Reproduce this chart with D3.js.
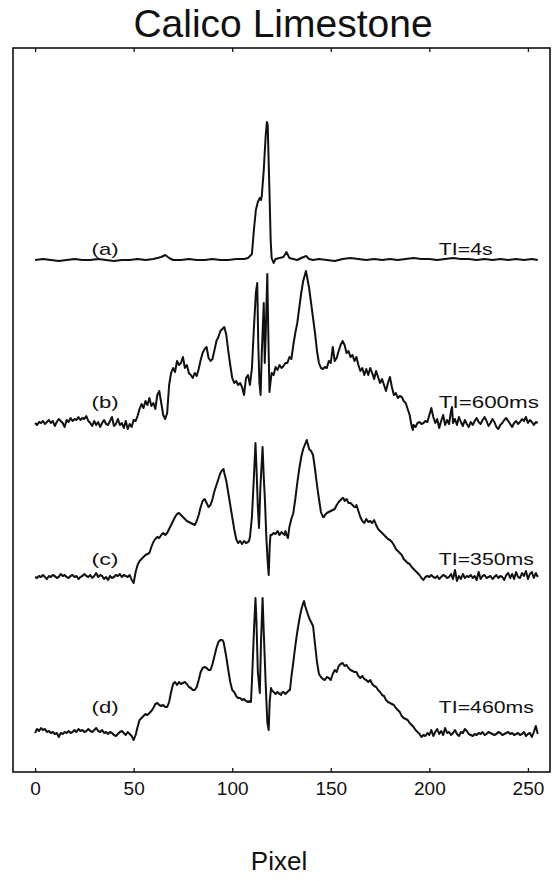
<!DOCTYPE html>
<html>
<head>
<meta charset="utf-8">
<script src="https://cdn.jsdelivr.net/npm/d3@7"></script>
<style>
  body { margin: 0; background: #fff; }
  text { font-family: "Liberation Sans", Arial, sans-serif; fill: #111; }
</style>
</head>
<body>
<div id="chart"></div>
<script>
// signal profiles, [pixel, intensity above that trace's baseline]
var traceA = [[0,0],[4,1],[8,0],[12,-1],[16,0],[20,1],[24,0],[28,0],[32,1],[36,0],[40,-1],[44,0],[48,0],[52,1],[56,0],[60,1],[64,3],[66,5],[68,2],[70,0],[74,0],[78,1],[82,0],[86,0],[90,1],[94,0],[98,0],[102,1],[106,1],[108,2],[110,6],[111,30],[112,50],[113,58],[114,62],[114.6,60],[115,64],[116,90],[117,125],[117.6,138],[118,135],[119,60],[119.5,20],[120,2],[121,-3],[122,1],[124,2],[126,3],[127.5,8],[129,2],[131,1],[133,0],[135,2],[137.5,4],[139,1],[141,0],[144,1],[148,0],[152,-1],[156,1],[160,2],[164,1],[168,0],[172,1],[176,0],[180,1],[184,0],[188,1],[192,2],[196,1],[200,1],[204,0],[208,1],[212,2],[216,1],[220,1],[224,0],[228,1],[232,0],[236,1],[240,0],[244,1],[248,0],[252,1],[255,0]];

var traceB = [[0,0],[1,-2],[2,1],[3,0],[4,2],[5,-1],[6,1],[7,3],[8,0],[9,2],[10,-3],[11,1],[12,4],[13,2],[14,0],[15,-4],[16,3],[17,1],[18,5],[19,2],[20,4],[21,3],[22,6],[23,3],[24,5],[25,4],[26,7],[27,2],[28,0],[29,-3],[30,2],[31,-2],[32,1],[33,-4],[34,0],[35,3],[36,-1],[37,-2],[38,2],[39,6],[40,-3],[41,-1],[42,4],[43,-2],[44,0],[45,-5],[46,2],[47,-6],[48,-1],[49,-4],[50,3],[51,2],[52,7],[53,14],[54,19],[55,15],[56,22],[57,18],[58,25],[59,17],[60,20],[61,14],[62,28],[63,32],[64,20],[65,8],[66,4],[67,10],[68,38],[69,50],[70,55],[71,51],[72,62],[73,58],[74,60],[75,66],[76,55],[77,58],[78,50],[79,48],[80,45],[81,50],[82,47],[83,54],[84,63],[85,70],[86,74],[87,76],[88,65],[89,62],[90,64],[91,73],[92,82],[93,86],[94,92],[95,94],[96,96],[97,88],[98,72],[99,58],[100,45],[101,40],[102,42],[103,38],[104,40],[105,36],[106,28],[107,45],[108,48],[109,38],[110,55],[111,95],[112,130],[112.7,140],[113.2,80],[113.8,40],[114.4,28],[115,70],[116,120],[116.5,60],[117,90],[117.8,149],[118.3,90],[118.9,31],[119.5,42],[120,50],[121,48],[122,56],[123,53],[124,58],[125,55],[126,57],[127,60],[128,60],[129,66],[130,64],[131,78],[132,90],[133,100],[134,115],[135,130],[136,142],[137.4,152],[138,146],[139,135],[140,120],[141,105],[142,90],[143,72],[144,60],[145,55],[146,54],[147,56],[148,55],[149,62],[150,60],[151,76],[152,62],[153,65],[154,72],[155,78],[156,82],[157,78],[158,70],[159,72],[160,66],[161,68],[162,62],[163,66],[164,58],[165,52],[166,55],[167,48],[168,54],[169,48],[170,55],[171,50],[172,44],[173,52],[174,46],[175,40],[176,44],[177,38],[178,32],[179,40],[180,46],[181,36],[182,28],[183,30],[184,25],[185,27],[186,26],[187,22],[188,20],[189,14],[190,8],[191,-3],[191.6,-7],[192,-2],[193,-4],[194,0],[195,1],[196,-1],[197,0],[198,2],[199,1],[200,8],[201,15],[202,6],[203,0],[204,4],[205,-5],[206,2],[207,8],[208,-2],[209,3],[210,-1],[211,12],[211.5,16],[212,0],[213,4],[214,-2],[215,6],[216,1],[217,-3],[218,3],[219,-1],[220,-4],[221,1],[222,-2],[223,2],[224,5],[225,1],[226,-1],[227,3],[228,6],[229,2],[230,-3],[231,0],[232,4],[233,1],[234,-4],[235,-6],[236,-2],[237,0],[238,3],[239,5],[240,2],[241,-1],[242,-4],[243,0],[244,2],[245,-1],[246,1],[247,4],[248,2],[249,6],[250,0],[251,3],[252,1],[253,-2],[254,1],[255,0]];

var traceC = [[0,0],[1,-1],[2,1],[3,0],[4,2],[5,0],[6,-2],[7,1],[8,0],[9,2],[10,1],[11,-1],[12,0],[13,3],[14,1],[15,2],[16,0],[17,-1],[18,1],[19,2],[20,0],[21,1],[22,-2],[23,0],[24,1],[25,3],[26,1],[27,0],[28,2],[29,-1],[30,1],[31,4],[32,0],[33,2],[34,1],[35,-2],[36,0],[37,-3],[38,1],[39,-1],[40,0],[41,2],[42,1],[43,3],[44,0],[45,2],[46,1],[47,0],[48,2],[49,-3],[50,-6],[51,5],[52,12],[53,16],[54,18],[55,20],[56,22],[57,23],[58,24],[59,30],[60,35],[61,38],[62,40],[63,39],[64,42],[65,44],[66,42],[67,44],[68,48],[69,52],[70,56],[71,60],[72,63],[73,64],[74,62],[75,60],[76,58],[77,56],[78,55],[79,54],[80,53],[81,52],[82,56],[83,62],[84,70],[85,76],[86,78],[87,74],[88,70],[89,72],[90,78],[91,86],[92,92],[93,98],[94,104],[95,107],[95.6,108],[96,104],[97,96],[98,84],[99,72],[100,60],[101,48],[102,38],[103,34],[104,36],[105,33],[106,36],[107,34],[108,35],[108.5,36],[109,40],[110,60],[111,100],[111.8,134],[112.3,110],[113,70],[113.6,49],[114.3,90],[115.4,130],[116,100],[116.6,77],[117.3,40],[118,15],[118.5,2],[119,30],[119.4,42],[120,42],[121,44],[122,43],[123,46],[124,42],[125,45],[126,43],[126.6,42],[127,46],[128,40],[128.3,39],[129,50],[130,58],[131,64],[132,78],[133,94],[134,108],[135,120],[136,128],[137,133],[137.8,137],[138.5,132],[139,128],[140,126],[141,122],[142,108],[143,92],[144,78],[145,65],[146,60],[146.5,60],[147,62],[148,64],[149,65],[150,66],[151,67],[152,68],[153,72],[154,75],[155,77],[156,79],[156.4,79],[157,76],[158,78],[159,74],[160,74],[161,72],[162,70],[162.8,70],[163,72],[164,66],[165,60],[166,56],[167,54],[168,58],[169,55],[170,56],[171,54],[172,57],[173,52],[174,48],[175,46],[176,44],[177,42],[178,40],[179,38],[180,37],[181,35],[182,32],[183,28],[184,26],[185,24],[186,22],[187,18],[188,16],[189,14],[190,13],[191,10],[192,8],[193,6],[194,4],[195,2],[196,-1],[197,-3],[198,0],[199,1],[200,0],[201,2],[202,0],[203,-1],[204,1],[205,-2],[206,0],[207,2],[208,1],[209,-1],[210,0],[211,3],[212,-2],[213,7],[214,-4],[215,1],[216,-2],[217,3],[218,-1],[219,1],[220,0],[221,2],[222,-1],[223,1],[224,-3],[225,5],[226,-2],[227,1],[228,2],[229,-1],[230,0],[231,1],[232,-2],[233,0],[234,2],[235,-1],[236,1],[237,0],[238,-3],[239,2],[240,4],[241,-1],[242,3],[243,-2],[244,5],[245,0],[246,-1],[247,4],[248,1],[249,6],[250,-2],[251,3],[252,5],[253,-1],[254,4],[255,0]];

var traceD = [[0,-1],[1,3],[2,1],[3,4],[4,2],[5,3],[6,0],[7,1],[8,-1],[9,0],[10,-2],[11,-1],[12,-5],[13,-1],[14,-2],[15,0],[16,-1],[17,1],[18,-1],[19,0],[20,2],[21,0],[22,3],[23,1],[24,2],[25,0],[26,1],[27,3],[28,1],[29,0],[30,2],[31,4],[32,1],[33,0],[34,2],[35,-1],[36,0],[37,-2],[38,0],[39,-1],[40,-3],[41,-4],[42,-2],[43,0],[44,1],[45,-1],[46,-3],[47,0],[48,-2],[49,-4],[50,-8],[51,-3],[52,5],[53,12],[54,14],[55,16],[56,18],[57,17],[58,19],[59,21],[60,24],[61,28],[62,29],[63,27],[64,26],[65,27],[66,25],[67,25],[68,30],[69,40],[70,48],[71,50],[72,47],[73,50],[74,48],[75,49],[76,50],[77,48],[78,45],[79,44],[80,42],[81,42],[82,45],[83,52],[84,60],[85,64],[86,65],[87,64],[88,62],[89,62],[90,68],[91,76],[92,84],[93,90],[94,92],[95,92],[95.6,90],[96,86],[97,75],[98,62],[99,50],[100,42],[101,40],[102,36],[103,34],[104,34],[105,32],[106,33],[107,31],[108,30],[109,31],[109.5,30],[110,50],[111,100],[111.8,134],[112.3,110],[113,60],[114,39],[114.6,90],[115.4,134],[116,100],[117,47],[117.8,10],[118.5,2],[119,30],[119.7,44],[120,42],[121,40],[122,38],[123,40],[124,38],[124.8,37],[125,39],[126,40],[127,38],[128,40],[129,42],[129.3,42],[130,55],[131,70],[132,86],[133,100],[134,112],[135,122],[136,129],[136.4,131],[137,126],[138,120],[139,114],[140,110],[141,106],[142,88],[143,70],[144,58],[145,55],[146,53],[147,52],[148,55],[149,54],[150,52],[151,58],[152,62],[153,60],[154,66],[155,68],[156,69],[157,66],[158,67],[159,64],[160,62],[161,61],[162,60],[163,60],[164,56],[165,54],[166,56],[167,53],[168,52],[169,50],[170,52],[171,48],[172,46],[173,45],[174,42],[175,40],[176,37],[177,36],[178,32],[179,30],[180,29],[181,28],[182,27],[183,24],[184,22],[185,20],[186,16],[187,14],[188,13],[189,12],[190,9],[191,7],[192,5],[193,2],[194,0],[195,-2],[196,-5],[197,-3],[198,-4],[199,-1],[200,-3],[201,2],[202,-4],[203,0],[204,3],[205,-2],[206,1],[207,-3],[208,4],[209,-1],[210,0],[211,-3],[212,-1],[213,2],[214,-2],[215,-4],[216,0],[217,-1],[218,3],[219,1],[220,-2],[221,-3],[222,-4],[223,-2],[224,-3],[225,-1],[226,-2],[227,0],[228,-3],[229,-2],[230,0],[231,-1],[232,-2],[233,-3],[234,-2],[235,0],[236,-1],[237,-3],[238,-2],[239,-1],[240,0],[241,-2],[242,-1],[243,-3],[244,-2],[245,-1],[246,-3],[247,-2],[248,0],[249,-4],[250,-2],[251,-1],[252,-5],[253,0],[254,6],[255,-2]];

var traces = [traceA, traceB, traceC, traceD];
var baselines = [512, 349, 195, 40];          // vertical offset of each profile (arb. units)
var traceLabels = ["(a)", "(b)", "(c)", "(d)"];
var tiLabels = ["TI=4s", "TI=600ms", "TI=350ms", "TI=460ms"];
var xTicks = [0, 50, 100, 150, 200, 250];

var svgWidth = 558;
var svgHeight = 881;
var box = { left: 13, right: 550, top: 48, bottom: 772 };

var svg = d3.select("#chart")
  .append("svg")
  .attr("width", svgWidth)
  .attr("height", svgHeight);

// scales
var x = d3.scaleLinear()
  .domain([-11.2, 261.2])
  .range([box.left, box.right]);

var y = d3.scaleLinear()
  .domain([0, 724])
  .range([box.bottom, box.top]);

// frame
svg.append("rect")
  .attr("x", box.left)
  .attr("y", box.top)
  .attr("width", box.right - box.left)
  .attr("height", box.bottom - box.top)
  .attr("fill", "none")
  .attr("stroke", "#111")
  .attr("stroke-width", 1.6);

// axes (ticks point inward)
var bottomAxis = d3.axisBottom(x)
  .tickValues(xTicks)
  .tickSizeInner(-4)
  .tickSizeOuter(0)
  .tickPadding(10);

var gx = svg.append("g")
  .attr("transform", `translate(0, ${box.bottom})`)
  .call(bottomAxis);
gx.select(".domain").remove();
gx.selectAll(".tick line").attr("stroke", "#111").attr("stroke-width", 1.3);
gx.selectAll(".tick text")
  .style("font-family", "'Liberation Sans', Arial, sans-serif")
  .style("font-size", "19px")
  .attr("fill", "#111");

var topAxis = d3.axisTop(x)
  .tickValues(xTicks)
  .tickSizeInner(-4)
  .tickSizeOuter(0)
  .tickFormat("");
var gt = svg.append("g")
  .attr("transform", `translate(0, ${box.top})`)
  .call(topAxis);
gt.select(".domain").remove();
gt.selectAll(".tick line").attr("stroke", "#111").attr("stroke-width", 1.3);

// profiles
var line = d3.line()
  .x(d => x(d[0]))
  .y(d => d[1]);

svg.selectAll("path.trace")
  .data(traces)
  .enter()
  .append("path")
  .attr("class", "trace")
  .attr("d", (t, i) => line(t.map(p => [p[0], y(baselines[i] + p[1])])))
  .attr("fill", "none")
  .attr("stroke", "#111")
  .attr("stroke-width", 2)
  .attr("stroke-linejoin", "round");

// labels on each profile
var labelLift = [5, 15, 12, 19];
var tiWidth = [54, 100, 95, 95];

svg.selectAll("text.tag")
  .data(traceLabels)
  .enter()
  .append("text")
  .attr("class", "tag")
  .attr("x", x(35.5))
  .attr("y", (d, i) => y(baselines[i] + labelLift[i]))
  .attr("text-anchor", "middle")
  .attr("textLength", 27)
  .attr("lengthAdjust", "spacingAndGlyphs")
  .style("font-size", "17px")
  .text(d => d);

svg.selectAll("text.ti")
  .data(tiLabels)
  .enter()
  .append("text")
  .attr("class", "ti")
  .attr("x", x(204.8))
  .attr("y", (d, i) => y(baselines[i] + labelLift[i]))
  .attr("textLength", (d, i) => tiWidth[i])
  .attr("lengthAdjust", "spacingAndGlyphs")
  .style("font-size", "17px")
  .text(d => d);

// title and axis label
svg.append("text")
  .attr("x", 283)
  .attr("y", 37)
  .attr("text-anchor", "middle")
  .style("font-size", "39px")
  .text("Calico Limestone");

svg.append("text")
  .attr("x", 279)
  .attr("y", 870)
  .attr("text-anchor", "middle")
  .style("font-size", "26px")
  .text("Pixel");
</script>
</body>
</html>
